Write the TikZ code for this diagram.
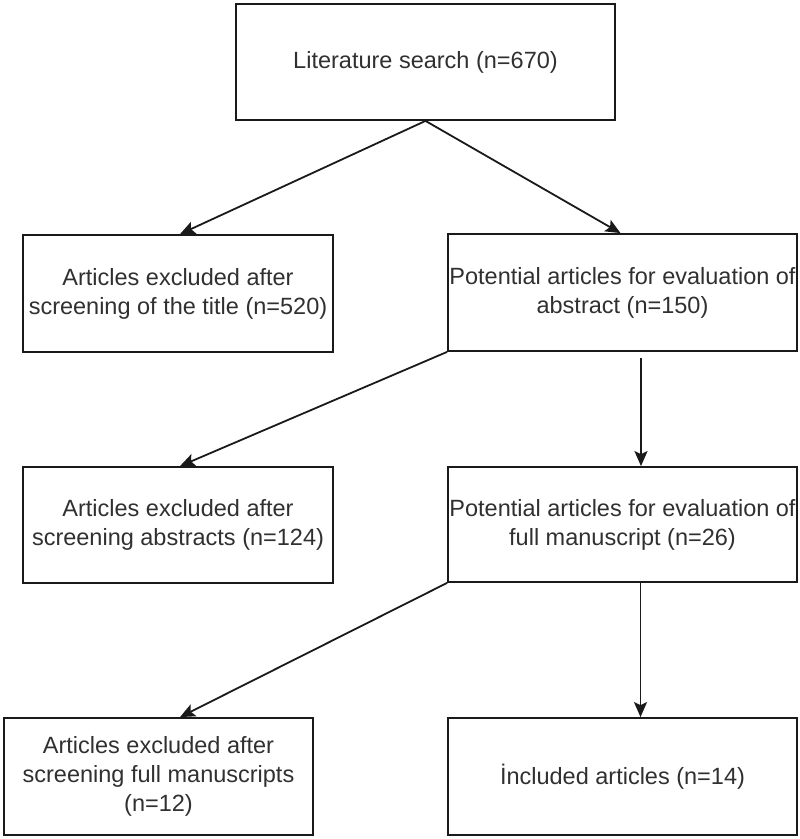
\documentclass[tikz,border=0pt]{standalone}
\usepackage{fontspec}
\setmainfont{Liberation Sans}
\usetikzlibrary{arrows.meta}
\definecolor{txt}{HTML}{303030}
\definecolor{ln}{HTML}{1A1A1A}
\begin{document}
\begin{tikzpicture}[x=1pt,y=-1pt,
  box/.style={draw=ln, line width=1.8pt, rectangle, align=center, inner sep=0pt,
    text=txt, font=\fontsize{23.5}{29}\selectfont},
  arr/.style={draw=ln, line width=1.8pt, -{Stealth[length=15pt,width=13pt,inset=3pt]}}]
\useasboundingbox (0,0) rectangle (800,839);
\node[box, minimum width=379pt, minimum height=116pt] (b1) at (425.5,62) {Literature search (n=670)};
\node[box, minimum width=310pt, minimum height=117pt] (b2) at (178,293.5) {Articles excluded after\\screening of the title (n=520)};
\node[box, minimum width=349pt, minimum height=117pt] (b3) at (622.5,292.5) {Potential articles for evaluation of\\abstract (n=150)};
\node[box, minimum width=310pt, minimum height=116pt] (b4) at (178,525) {Articles excluded after\\screening abstracts (n=124)};
\node[box, minimum width=349pt, minimum height=115pt] (b5) at (622.5,524.5) {Potential articles for evaluation of\\full manuscript (n=26)};
\node[box, minimum width=309pt, minimum height=117pt] (b6) at (158.5,776.5) {Articles excluded after\\screening full manuscripts\\(n=12)};
\node[box, minimum width=349pt, minimum height=117pt] (b7) at (622.5,776.5) {İncluded articles (n=14)};
\draw[arr] (b1.south) -- ([xshift=2pt]b2.north);
\draw[arr] (b1.south) -- ([xshift=-2pt]b3.north);
\draw[arr] (b3.south west) -- ([xshift=2pt]b4.north);
\draw[arr] ([xshift=18.5pt,yshift=-6pt]b3.south) -- ([xshift=18.5pt]b5.north);
\draw[arr] (b5.south west) -- ([xshift=21.5pt]b6.north);
\draw[arr] ([xshift=18pt]b5.south) -- ([xshift=18pt]b7.north);
\end{tikzpicture}
\end{document}
